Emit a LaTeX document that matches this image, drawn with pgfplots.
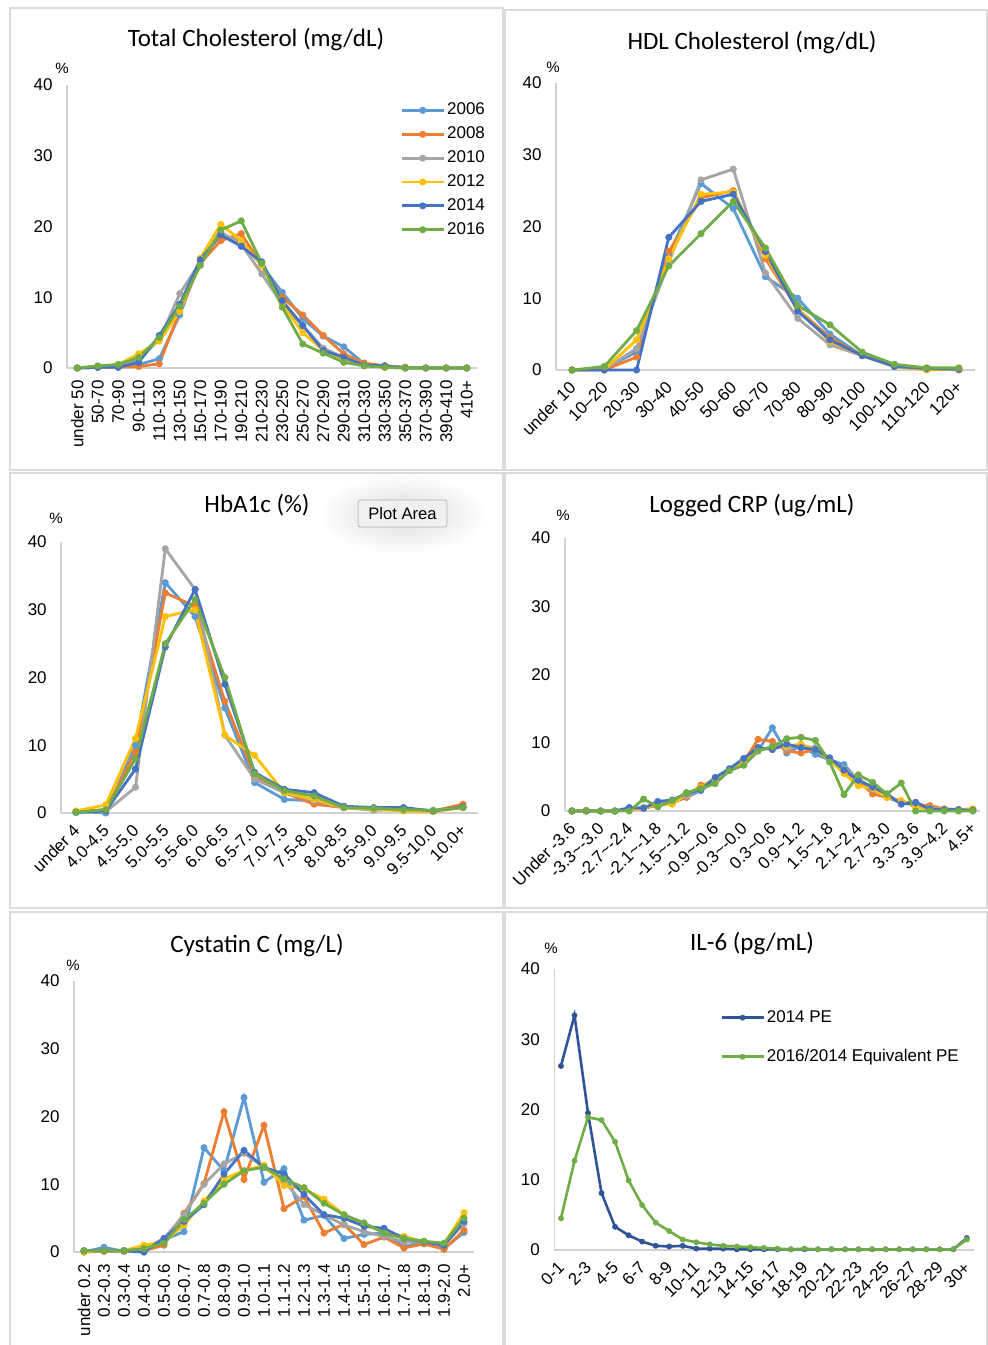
\documentclass[border=0pt]{standalone}
\usepackage{fontspec}
\setmainfont{Liberation Sans}
\newfontfamily\titlefont{Carlito}
\usepackage{pgfplots}
\pgfplotsset{compat=1.18}
\usepackage{pgfplotstable}
\usetikzlibrary{shadows}
\definecolor{c06}{HTML}{5B9BD5}
\definecolor{c08}{HTML}{ED7D31}
\definecolor{c10}{HTML}{A5A5A5}
\definecolor{c12}{HTML}{FFC000}
\definecolor{c14}{HTML}{4472C4}
\definecolor{c16}{HTML}{70AD47}
\definecolor{cPE}{HTML}{2F5597}
\newcommand\tl{\textasciitilde}
\newcommand\tickfont{\fontsize{8.5}{10}\selectfont}
\newcommand\ttl{\titlefont\fontsize{12.5}{15}\selectfont}

\pgfplotstableread{
idx a06 a08 a10 a12 a14 a16
0 0 0 0 0 0 0
1 0.1 0.1 0.1 0.2 0.1 0.3
2 0.2 0.1 0.3 0.5 0.1 0.5
3 0.5 0.2 1.2 2.0 0.8 1.5
4 1.3 0.6 4.0 3.8 4.6 4.3
5 7.5 8.0 10.5 8.0 9.0 8.7
6 15.2 14.8 15.0 15.5 15.3 14.5
7 19.0 18.0 19.2 20.3 18.8 19.5
8 17.8 19.0 17.5 18.0 17.2 20.8
9 14.5 14.5 13.3 14.5 15.0 14.8
10 10.7 10.0 9.0 9.0 9.5 8.6
11 7.0 7.5 6.0 5.0 6.0 3.4
12 4.5 4.6 2.8 2.5 2.5 2.1
13 3.0 2.0 1.5 1.2 1.5 0.8
14 0.6 0.7 0.4 0.4 0.4 0.3
15 0.3 0.3 0.1 0.1 0.3 0.1
16 0.1 0.1 0 0 0 0
17 0 0 0 0 0 0
18 0 0 0 0 0 0
19 0 0 0 0 0 0
}\tabA

\pgfplotstableread{
idx a06 a08 a10 a12 a14 a16
0 0 0 0 0 0 0
1 0.2 0 0.1 0.1 0 0.5
2 2.5 1.8 3.0 4.2 0 5.5
3 16.0 16.5 15.0 15.5 18.5 14.5
4 26.0 24.0 26.5 24.5 23.5 19.0
5 22.5 25.0 28.0 24.8 24.5 23.5
6 13.0 15.5 13.5 16.0 16.5 17.0
7 10.0 8.5 7.2 8.5 8.2 9.0
8 5.0 4.5 3.5 4.0 4.2 6.3
9 2.0 2.0 2.0 2.0 2.0 2.5
10 0.5 0.5 0.5 0.5 0.5 0.8
11 0.1 0.3 0.1 0.0 0.2 0.3
12 0.1 0.0 0.1 0.1 0.1 0.3
}\tabB

\pgfplotstableread{
idx a06 a08 a10 a12 a14 a16
0 0.2 0.2 0.1 0.3 0.1 0.1
1 0.0 0.5 0.2 1.2 0.3 0.5
2 10.0 9.0 3.8 11.0 6.5 8.0
3 34.0 32.5 39.0 29.0 24.5 25.0
4 29.0 30.5 33.0 30.0 33.0 31.5
5 15.5 16.5 11.5 11.5 19.0 20.0
6 4.5 5.5 5.0 8.5 6.0 5.8
7 2.0 3.0 3.0 3.0 3.5 3.3
8 1.8 1.3 1.8 2.0 3.0 2.5
9 0.8 0.8 0.8 0.8 1.0 0.8
10 0.6 0.6 0.4 0.6 0.8 0.7
11 0.5 0.4 0.5 0.3 0.8 0.5
12 0.3 0.3 0.3 0.2 0.3 0.4
13 1.0 1.3 0.8 0.8 0.9 0.8
}\tabC

\pgfplotstableread{
idx a06 a08 a10 a12 a14 a16
0 0 0 0 0 0 0
1 0 0.1 0 0 0 0
2 0 0 0 0 0 0
3 0 0 0 0 0 0
4 0.3 0.2 0.2 0.2 0.5 0
5 0.5 0.4 0.5 0.4 0.4 1.75
6 1.0 0.8 1.0 1.0 1.4 0.6
7 1.5 1.2 1.4 1.0 1.6 1.5
8 2.0 2.0 2.2 2.5 2.6 2.7
9 3.0 3.8 3.2 3.5 3.1 3.3
10 4.5 4.3 4.5 4.8 4.9 4.0
11 6.0 6.0 6.0 6.0 6.2 5.9
12 7.2 7.2 7.3 7.0 7.7 6.7
13 8.8 10.5 8.8 9.0 9.3 8.8
14 12.2 10.2 9.5 9.3 9.0 9.4
15 8.5 8.8 9.2 9.5 9.8 10.6
16 9.5 8.5 9.5 9.8 9.3 10.8
17 8.3 9.0 9.3 9.0 9.0 10.35
18 7.5 7.5 7.5 7.5 7.8 7.2
19 6.8 5.8 6.2 5.5 6.0 2.4
20 4.5 4.5 4.8 3.7 4.5 5.3
21 3.5 2.5 3.2 3.3 3.5 4.2
22 2.0 2.0 2.2 2.0 2.5 2.5
23 1.2 1.5 1.3 1.5 1.0 4.1
24 1.3 0.8 0.8 0.6 1.2 0
25 0.4 0.8 0.4 0.3 0.3 0
26 0.2 0.3 0.3 0.3 0.2 0
27 0.2 0.2 0.2 0.2 0.2 0
28 0.2 0.3 0.2 0.3 0.1 0
}\tabD

\pgfplotstableread{
idx a06 a08 a10 a12 a14 a16
0 0 0 0.1 0 0.2 0.2
1 0.7 0.1 0.2 0.2 0.2 0.2
2 0.1 0.1 0.2 0.2 0.2 0.2
3 0 0.2 0.5 1.0 0.0 0.5
4 1.8 1.0 2.0 1.5 2.0 1.3
5 3.0 5.7 5.5 4.0 4.5 4.8
6 15.4 10.1 10.0 7.5 7.0 7.2
7 12.0 20.7 13.0 10.8 11.5 10.0
8 22.8 10.7 14.6 12.0 15.0 12.0
9 10.3 18.7 12.5 12.8 12.5 12.5
10 12.3 6.4 10.5 9.8 11.5 10.8
11 4.7 8.2 7.0 9.3 8.5 9.5
12 5.4 2.8 5.5 7.8 5.5 7.2
13 2.0 4.1 4.0 5.5 5.0 5.5
14 2.6 1.1 3.0 4.0 3.8 4.3
15 2.8 2.2 2.3 3.0 3.5 2.8
16 0.8 0.6 1.5 2.3 2.0 2.0
17 1.5 1.2 1.5 1.5 1.5 1.6
18 0.5 0.4 1.0 1.2 1.0 1.3
19 2.9 3.2 4.2 5.8 4.5 5.0
}\tabE

\pgfplotstableread{
idx b14 g16
0 26.2 4.5
1 33.4 12.7
2 19.5 18.9
3 8.1 18.5
4 3.3 15.4
5 2.1 9.9
6 1.2 6.4
7 0.6 3.9
8 0.5 2.7
9 0.6 1.5
10 0.2 1.1
11 0.2 0.8
12 0.2 0.6
13 0.1 0.5
14 0.1 0.4
15 0.1 0.3
16 0.1 0.2
17 0.1 0.1
18 0.1 0.2
19 0.1 0.1
20 0.1 0.1
21 0.1 0.1
22 0.1 0.1
23 0.1 0.1
24 0.1 0.1
25 0.1 0.1
26 0.1 0.1
27 0.1 0.1
28 0.1 0.1
29 0.1 0.1
30 1.7 1.5
}\tabF

\pgfplotsset{
  panel/.style={
    scale only axis, clip=false, anchor=south west,
    xmin=-0.5, ymin=0, ymax=40,
    axis x line=bottom, axis y line=left,
    axis line style={draw=black!18, line width=0.7pt},
    x axis line style={-}, y axis line style={-},
    ytick={0,10,20,30,40},
    major tick length=0pt, tick style={draw=none},
    /pgf/number format/assume math mode=true,
    yticklabel style={font=\tickfont, inner sep=0pt, xshift=-7pt},
    every axis plot/.append style={line width=1.4pt, mark=*, mark size=1.6pt,
      mark options={solid, line width=0.3pt}},
  },
  rot90/.style={xticklabel style={font=\tickfont, inner sep=0pt, yshift=-6pt, rotate=90, anchor=east}},
  rot45/.style={xticklabel style={font=\tickfont, inner sep=0pt, xshift=-2pt, yshift=-5pt, rotate=45, anchor=north east}},
  legend image code/.code={\draw[mark repeat=2,mark phase=2,#1] plot coordinates {(0pt,0pt) (10.5pt,0pt) (21pt,0pt)};},
}

\newcommand\sixseries[1]{%
  \addplot[c06] table[x=idx,y=a06] {#1};
  \addplot[c08] table[x=idx,y=a08] {#1};
  \addplot[c10] table[x=idx,y=a10] {#1};
  \addplot[c12] table[x=idx,y=a12] {#1};
  \addplot[c14] table[x=idx,y=a14] {#1};
  \addplot[c16] table[x=idx,y=a16] {#1};
}

\begin{document}
\begin{tikzpicture}
\useasboundingbox (0,0) rectangle (494pt,-672.5pt);
\fill[white] (0,0) rectangle (494pt,-672.5pt);
% panel frames
\draw[black!14, line width=0.6pt] (5pt,-4pt) rectangle (251.5pt,-235pt);
\draw[black!14, line width=0.6pt] (252.5pt,-5pt) rectangle (493.5pt,-235pt);
\draw[black!14, line width=0.6pt] (5pt,-236.5pt) rectangle (251.5pt,-454pt);
\draw[black!14, line width=0.6pt] (252.5pt,-236.5pt) rectangle (493.5pt,-454pt);
\draw[black!14, line width=0.6pt] (5pt,-456pt) rectangle (251.5pt,-673pt);
\draw[black!14, line width=0.6pt] (252.5pt,-456pt) rectangle (493.5pt,-673pt);

% titles and % signs
\node[font=\ttl] at (128pt,-20pt) {Total Cholesterol (mg/dL)};
\node[font=\ttl] at (376pt,-21.5pt) {HDL Cholesterol (mg/dL)};
\node[font=\ttl] at (128.5pt,-252.5pt) {HbA1c (\%)};
\node[font=\ttl] at (376pt,-252.5pt) {Logged CRP (ug/mL)};
\node[font=\ttl] at (128.5pt,-472.5pt) {Cystatin C (mg/L)};
\node[font=\ttl] at (376pt,-471.5pt) {IL-6 (pg/mL)};
\node[font=\fontsize{7.5}{9}\selectfont] at (31pt,-34pt) {\%};
\node[font=\fontsize{7.5}{9}\selectfont] at (276.5pt,-33.5pt) {\%};
\node[font=\fontsize{7.5}{9}\selectfont] at (28pt,-259pt) {\%};
\node[font=\fontsize{7.5}{9}\selectfont] at (281.5pt,-257.5pt) {\%};
\node[font=\fontsize{7.5}{9}\selectfont] at (36.5pt,-482.5pt) {\%};
\node[font=\fontsize{7.5}{9}\selectfont] at (275.5pt,-474pt) {\%};

% Plot Area tooltip
\shade[inner color=black!14, outer color=white] (201.25pt,-257pt) ellipse (42pt and 20pt);
\node[draw=black!30, fill=black!6, rounded corners=1.2pt, minimum width=44.5pt, minimum height=13.5pt,
      inner sep=0pt, font=\fontsize{8.3}{10}\selectfont] at (201.25pt,-256.75pt) {Plot Area};

% Panel 1
\begin{axis}[panel, rot90, at={(33.5pt,-184pt)}, width=205pt, height=141.5pt, xmax=19.5,
  xtick={0,...,19},
  xticklabels={under 50,50-70,70-90,90-110,110-130,130-150,150-170,170-190,190-210,210-230,230-250,250-270,270-290,290-310,310-330,330-350,350-370,370-390,390-410,410+},
  legend cell align=left,
  legend style={at={(0.812,0.945)}, anchor=north west, draw=none, fill=none,
    font=\tickfont, row sep=2.5pt, inner sep=0pt, nodes={inner sep=1pt}},
]
\sixseries{\tabA}
\legend{2006,2008,2010,2012,2014,2016}
\end{axis}

% Panel 2
\begin{axis}[panel, rot45, at={(278pt,-185pt)}, width=209.5pt, height=143.5pt, xmax=12.5,
  xtick={0,...,12},
  xticklabels={under 10,10--20,20-30,30-40,40-50,50-60,60-70,70-80,80-90,90-100,100-110,110-120,120+},
]
\sixseries{\tabB}
\end{axis}

% Panel 3
\begin{axis}[panel, rot45, at={(30.55pt,-406.5pt)}, width=208.4pt, height=135.5pt, xmax=13.5,
  xtick={0,...,13},
  xticklabels={under 4,4.0-4.5,4.5-5.0,5.0-5.5,5.5-6.0,6.0-6.5,6.5-7.0,7.0-7.5,7.5-8.0,8.0-8.5,8.5-9.0,9.0-9.5,9.5-10.0,10.0+},
]
\sixseries{\tabC}
\end{axis}

% Panel 4
\begin{axis}[panel, rot45, at={(282.4pt,-405.5pt)}, width=207.6pt, height=136.5pt, xmax=28.5,
  xtick={0,2,...,28},
  xticklabels={Under -3.6,-3.3\tl-3.0,-2.7\tl-2.4,-2.1\tl-1.8,-1.5\tl-1.2,-0.9\tl-0.6,-0.3\tl-0.0,0.3\tl0.6,0.9\tl1.2,1.5\tl1.8,2.1\tl2.4,2.7\tl3.0,3.3\tl3.6,3.9\tl4.2,4.5+},
]
\sixseries{\tabD}
\end{axis}

% Panel 5
\begin{axis}[panel, rot90, at={(37pt,-626pt)}, width=200pt, height=135.5pt, xmax=19.5,
  xtick={0,...,19},
  xticklabels={under 0.2,0.2-0.3,0.3-0.4,0.4-0.5,0.5-0.6,0.6-0.7,0.7-0.8,0.8-0.9,0.9-1.0,1.0-1.1,1.1-1.2,1.2-1.3,1.3-1.4,1.4-1.5,1.5-1.6,1.6-1.7,1.7-1.8,1.8-1.9,1.9-2.0,2.0+},
]
\sixseries{\tabE}
\end{axis}

% Panel 6
\begin{axis}[panel, rot45, at={(277.1pt,-625pt)}, width=209.7pt, height=140.5pt, xmax=30.5,
  xtick={0,2,...,30},
  xticklabels={0-1,2-3,4-5,6-7,8-9,10-11,12-13,14-15,16-17,18-19,20-21,22-23,24-25,26-27,28-29,30+},
  every axis plot/.append style={line width=1.3pt, mark size=1.3pt},
  legend cell align=left,
  legend style={at={(0.395,0.862)}, anchor=north west, draw=none, fill=none,
    font=\tickfont, row sep=10pt, inner sep=0pt, nodes={inner sep=1pt}},
]
\addplot[cPE] table[x=idx,y=b14] {\tabF};
\addplot[c16] table[x=idx,y=g16] {\tabF};
\legend{2014 PE,2016/2014 Equivalent PE}
\end{axis}
\end{tikzpicture}
\end{document}
